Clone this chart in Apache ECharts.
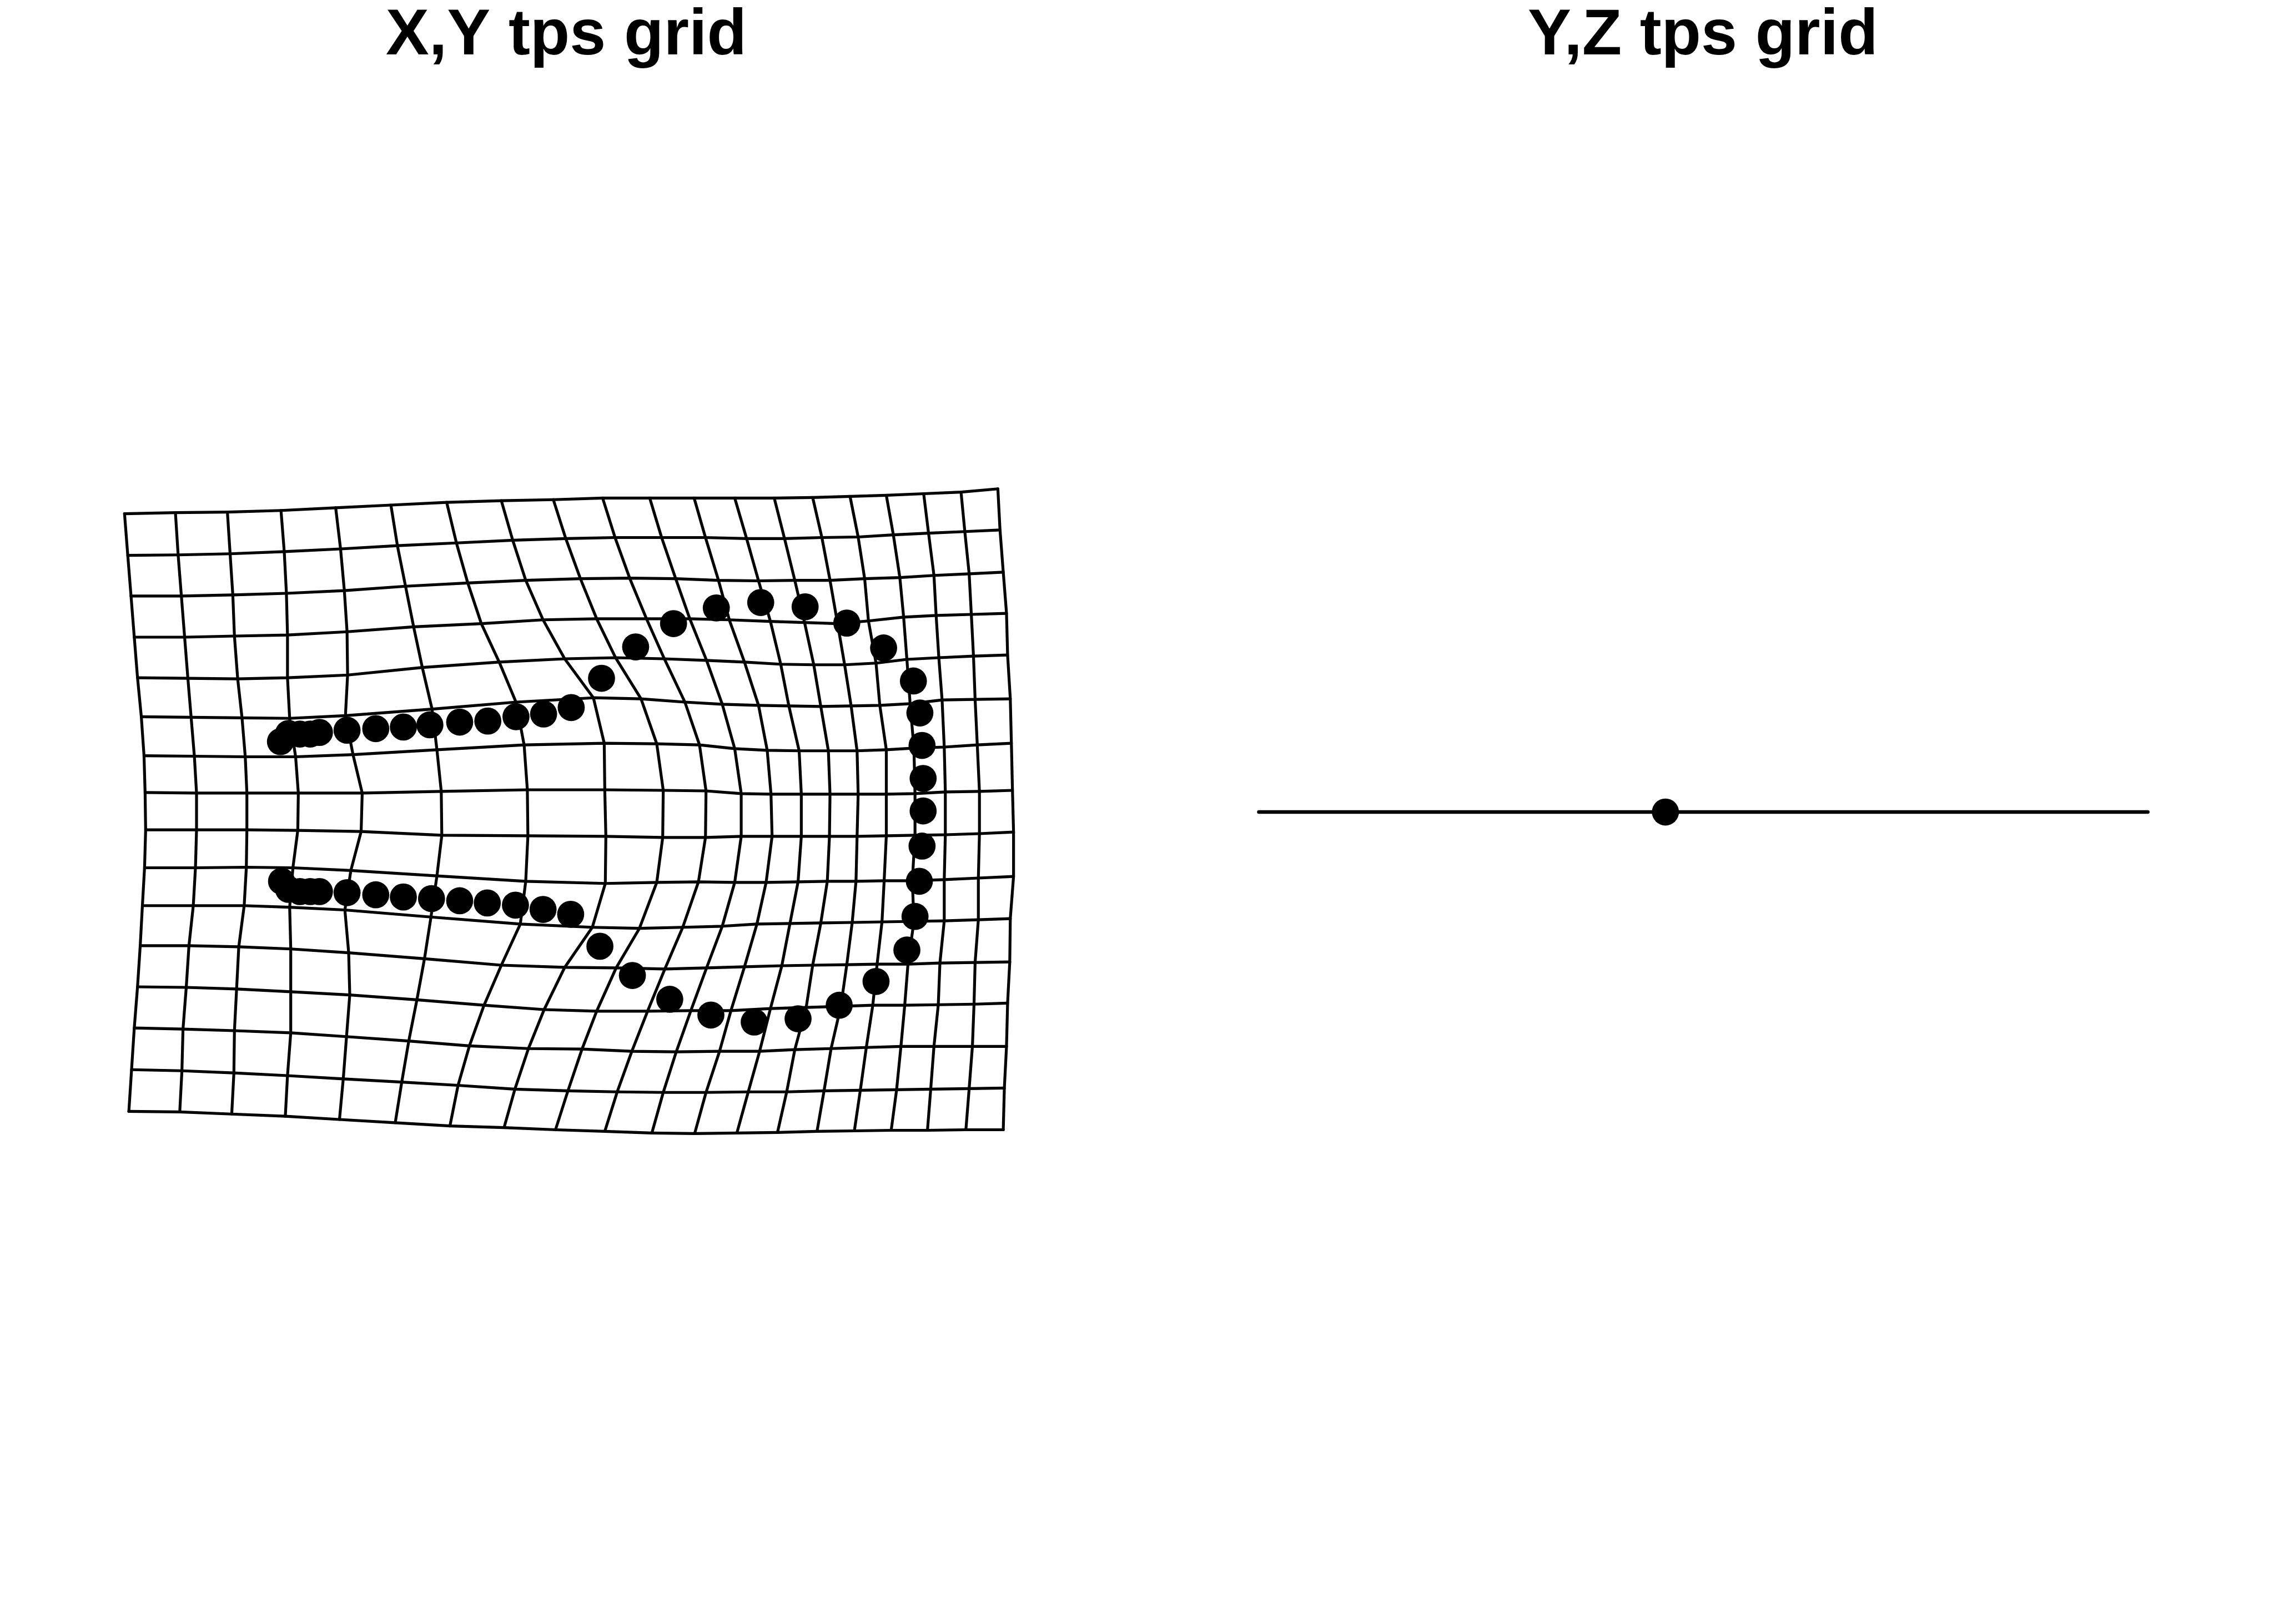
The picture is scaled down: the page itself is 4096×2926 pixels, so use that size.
<!DOCTYPE html>
<html>
<head>
<meta charset="utf-8">
<script src="https://cdn.jsdelivr.net/npm/echarts@6/dist/echarts.min.js"></script>
<style>html,body{margin:0;padding:0;background:#fff}#c{width:4096px;height:2926px}</style>
</head>
<body>
<div id="c"></div>
<script>
// Panel titles
const titles = ['X,Y tps grid', 'Y,Z tps grid'];
const titleCentersX = [1046, 3146]; // reference units

// X,Y tps grid: node x positions (16 rows top->bottom, 20 columns left->right), reference units
const gridX = [
  [230,324,420,519,620,722,825,926,1022,1113,1200,1282,1357,1430,1501,1570,1637,1706,1775,1843],
  [236,329,425,525,629,734,843,947,1045,1136,1222,1303,1379,1449,1518,1585,1650,1715,1782,1847],
  [242,335,430,529,636,749,864,971,1072,1163,1248,1327,1401,1468,1533,1597,1662,1725,1790,1853],
  [248,341,433,531,641,764,889,1003,1102,1194,1274,1347,1423,1486,1547,1604,1669,1729,1794,1859],
  [254,347,439,531,642,780,922,1043,1137,1227,1305,1375,1442,1503,1560,1618,1675,1734,1798,1861],
  [261,353,447,535,638,798,953,1096,1184,1265,1334,1401,1457,1516,1572,1625,1681,1740,1801,1866],
  [266,359,453,546,652,807,968,1116,1213,1292,1357,1417,1476,1530,1583,1637,1688,1744,1805,1868],
  [268,363,456,551,669,815,974,1117,1225,1304,1369,1424,1480,1533,1585,1637,1690,1746,1809,1870],
  [269,363,456,550,667,816,975,1119,1224,1303,1369,1426,1480,1532,1583,1637,1690,1746,1809,1872],
  [267,361,455,541,648,807,971,1118,1213,1290,1357,1415,1474,1528,1581,1633,1685,1744,1807,1872],
  [263,357,451,535,637,796,961,1094,1181,1261,1334,1398,1459,1516,1574,1629,1688,1744,1807,1866],
  [259,349,441,537,644,784,926,1043,1138,1228,1305,1375,1444,1501,1564,1620,1677,1736,1801,1865],
  [254,344,437,537,646,770,894,1005,1102,1196,1276,1350,1423,1489,1553,1612,1671,1733,1799,1861],
  [248,338,433,537,640,755,867,976,1075,1167,1249,1329,1403,1468,1535,1600,1664,1725,1796,1859],
  [243,336,432,531,634,742,846,951,1049,1140,1225,1304,1382,1453,1522,1589,1656,1719,1790,1855],
  [238,332,428,527,627,730,831,931,1026,1117,1204,1283,1361,1436,1509,1578,1646,1713,1784,1853]
];
// node y positions (reference units, downwards)
const gridY = [
  [949,947,946,943,938,933,928,925,923,920,920,920,920,920,919,917,915,912,909,903],
  [1026,1025,1023,1019,1014,1008,1003,998,995,993,993,993,995,995,993,992,988,985,982,979],
  [1101,1101,1099,1096,1091,1083,1077,1072,1069,1068,1069,1072,1073,1072,1072,1069,1067,1063,1060,1057],
  [1177,1177,1175,1173,1167,1158,1152,1145,1143,1143,1143,1145,1148,1150,1152,1147,1140,1137,1135,1133],
  [1252,1253,1254,1252,1247,1233,1223,1217,1215,1217,1220,1223,1227,1228,1228,1225,1218,1215,1212,1210],
  [1324,1325,1326,1327,1322,1310,1297,1289,1291,1297,1301,1303,1304,1305,1304,1303,1300,1293,1292,1291],
  [1396,1397,1398,1398,1394,1385,1376,1373,1374,1376,1383,1386,1387,1387,1387,1385,1382,1380,1376,1373],
  [1464,1465,1465,1465,1465,1462,1459,1459,1460,1461,1466,1467,1467,1467,1467,1467,1466,1463,1462,1460],
  [1533,1533,1533,1534,1536,1543,1544,1545,1547,1547,1545,1545,1545,1545,1545,1544,1543,1542,1540,1537],
  [1603,1603,1602,1603,1608,1618,1628,1632,1630,1629,1630,1630,1629,1628,1628,1627,1627,1625,1622,1619],
  [1673,1673,1673,1676,1681,1694,1707,1713,1715,1713,1711,1707,1706,1705,1704,1703,1702,1701,1699,1697],
  [1747,1747,1749,1753,1760,1771,1783,1787,1788,1790,1788,1786,1784,1783,1782,1781,1781,1779,1778,1777],
  [1823,1824,1827,1832,1838,1847,1857,1865,1868,1868,1867,1867,1863,1861,1859,1857,1857,1856,1855,1853],
  [1899,1901,1904,1908,1915,1923,1932,1937,1938,1942,1943,1942,1942,1939,1937,1935,1933,1933,1933,1933],
  [1976,1978,1982,1987,1993,1999,2005,2012,2015,2017,2018,2018,2017,2017,2015,2014,2013,2012,2011,2010],
  [2053,2054,2058,2062,2068,2074,2080,2083,2087,2090,2093,2094,2093,2092,2090,2089,2088,2088,2087,2087]
];

// Landmarks on the X,Y panel (reference units)
const landmarkX = [518,533,554,573,590,641,694,745,794,849,901,953,1004,1055,1111,1174,1244,1323,1405,1487,1564,1632,1687,1699,1703,1705,1705,1703,1698,1690,1675,1618,1550,1474,1393,1313,1237,1168,1108,1054,1003,952,900,849,797,745,694,641,590,573,554,533,520];
const landmarkY = [1370,1355,1356,1356,1353,1349,1346,1343,1339,1334,1332,1324,1319,1307,1253,1195,1152,1123,1113,1121,1151,1197,1258,1317,1377,1438,1498,1563,1628,1693,1755,1813,1857,1882,1888,1875,1846,1802,1748,1689,1680,1672,1668,1664,1660,1657,1653,1649,1647,1647,1647,1643,1628];

// Y,Z panel: collapsed grid line and its landmark
const yzLineX = [2325, 3967];
const yzLineY = [1500, 1500];
const yzPointX = [3076];
const yzPointY = [1500];

const S = 0.975;
const black = '#000000';
const series = [];
gridX.forEach((row, r) => {
  series.push({type:'line', data: row.map((x, c) => [x, gridY[r][c]]), symbol:'none', silent:true, clip:false,
    lineStyle:{color:black, width:5.3*S, cap:'round', join:'round'}, z:2});
});
gridX[0].forEach((_, c) => {
  series.push({type:'line', data: gridX.map((row, r) => [row[c], gridY[r][c]]), symbol:'none', silent:true, clip:false,
    lineStyle:{color:black, width:5.3*S, cap:'round', join:'round'}, z:2});
});
series.push({type:'scatter', data: landmarkX.map((x, i) => [x, landmarkY[i]]), symbol:'circle', symbolSize:50*S,
  itemStyle:{color:black, opacity:1}, silent:true, z:3});
series.push({type:'line', data: yzLineX.map((x, i) => [x, yzLineY[i]]), symbol:'none', silent:true, clip:false,
  lineStyle:{color:black, width:6.5*S, cap:'round'}, z:2});
series.push({type:'scatter', data: yzPointX.map((x, i) => [x, yzPointY[i]]), symbol:'circle', symbolSize:50*S,
  itemStyle:{color:black, opacity:1}, silent:true, z:3});

const chart = echarts.init(document.getElementById('c'), null, {renderer:'canvas'});
chart.setOption({
  animation:false,
  backgroundColor:'#ffffff',
  title: titles.map((t, i) => ({
    text:t, left: titleCentersX[i]*S, top: 7, textAlign:'center', padding:0,
    textStyle:{fontFamily:'Liberation Sans, Arial, sans-serif', fontWeight:'bold', fontSize:117, color:black}
  })),
  grid:{left:0, top:0, right:0, bottom:0, containLabel:false},
  xAxis:{type:'value', min:0, max:4200, show:false},
  yAxis:{type:'value', min:0, max:3000, inverse:true, show:false},
  series: series
});
</script>
</body>
</html>
